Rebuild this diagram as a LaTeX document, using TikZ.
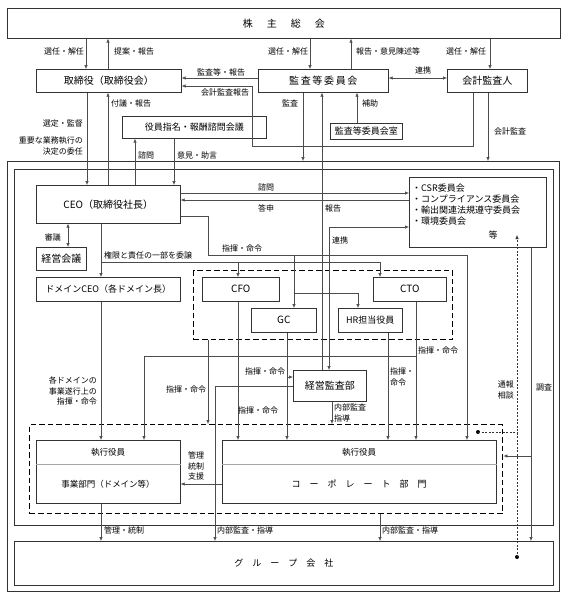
\documentclass[tikz,border=0pt]{standalone}
\usepackage{fontspec}
\setmainfont{Noto Sans CJK JP}
\usetikzlibrary{arrows.meta}

\newcommand{\lblfont}{\fontsize{8}{10.5}\selectfont}
\newcommand{\boxfont}{\fontsize{10}{12}\selectfont}
\newcommand{\midfont}{\fontsize{9}{11}\selectfont}

\tikzset{
  box/.style={draw=black!80, line width=0.6pt, inner sep=0pt, font=\boxfont},
  frame/.style={draw=black!80, line width=0.6pt, inner sep=0pt},
  dbox/.style={draw=black, line width=1.4pt, dash pattern=on 5.5pt off 3pt, inner sep=0pt},
  lbl/.style={font=\lblfont, inner sep=1pt},
  ln/.style={draw=black!70, line width=0.6pt},
  arr/.style={ln, -{Latex[length=4pt,width=3.4pt]}},
  darr/.style={ln, {Latex[length=4pt,width=3.4pt]}-{Latex[length=4pt,width=3.4pt]}},
  dotln/.style={draw=black!80, line width=0.6pt, dash pattern=on 2pt off 1.5pt},
}

\begin{document}
\begin{tikzpicture}[x=1pt,y=-1pt]
\useasboundingbox (0,0) rectangle (567,595);

\node[frame, anchor=north west, minimum width=552pt, minimum height=430pt] (outer) at (7,161) {};
\node[frame, anchor=north west, minimum width=539pt, minimum height=356pt] (inner) at (14,169) {};
\node[dbox, anchor=north west, minimum width=259pt, minimum height=69pt] (cxo) at (193,270) {};
\node[dbox, anchor=north west, minimum width=473pt, minimum height=89pt] (exec) at (29,424) {};

\node[box, anchor=north west, minimum width=553pt, minimum height=30pt] (kabu) at (7,8) {株\hspace{1.4em}主\hspace{1.4em}総\hspace{1.4em}会};
\node[box, anchor=north west, minimum width=145pt, minimum height=23pt] (tori) at (36,69) {取締役（取締役会）};
\node[box, anchor=north west, minimum width=130pt, minimum height=23pt] (kansa) at (258,69) {監\,査\,等\,委\,員\,会};
\node[box, anchor=north west, minimum width=80pt, minimum height=23pt] (kaikei) at (447,69) {会計監査人};
\node[box, anchor=north west, minimum width=144pt, minimum height=22pt, font=\midfont] (yakuin) at (122,116) {役員指名・報酬諮問会議};
\node[box, anchor=north west, minimum width=72pt, minimum height=16pt, font=\midfont] (shitsu) at (330,123) {監査等委員会室};

\node[box, anchor=north west, minimum width=144pt, minimum height=38pt] (ceo) at (36,185) {CEO（取締役社長）};
\node[box, anchor=north west, minimum width=137pt, minimum height=70pt] (iinkai) at (409,177) {};
\node[lbl, font=\midfont, align=left, anchor=north west] (iinkaitxt) at (411,183) {・CSR委員会\\・コンプライアンス委員会\\・輸出関連法規遵守委員会\\・環境委員会};
\node[lbl, font=\midfont] (iinkaito) at (493,235) {等};
\node[box, anchor=north west, minimum width=50pt, minimum height=23pt] (keiei) at (36,247) {経営会議};
\node[box, anchor=north west, minimum width=144pt, minimum height=24pt, font=\midfont] (domain) at (36,277) {ドメインCEO（各ドメイン長）};

\node[box, anchor=north west, minimum width=77pt, minimum height=24pt] (cfo) at (202,277) {CFO};
\node[box, anchor=north west, minimum width=73pt, minimum height=24pt] (cto) at (373,277) {CTO};
\node[box, anchor=north west, minimum width=65pt, minimum height=24pt] (gc) at (251,308) {GC};
\node[box, anchor=north west, minimum width=64pt, minimum height=24pt, font=\midfont] (hr) at (338,308) {HR担当役員};
\node[box, anchor=north west, minimum width=73pt, minimum height=31pt] (kansabu) at (293,370) {経営監査部};

\node[box, anchor=north west, minimum width=144pt, minimum height=63pt] (jigyo) at (36,440) {};
\node[box, anchor=north west, minimum width=274pt, minimum height=63pt] (corp) at (222,440) {};
\draw[black!35, line width=0.5pt] (jigyo.west |- 0,464) -- (jigyo.east |- 0,464);
\draw[black!35, line width=0.5pt] (corp.west |- 0,464) -- (corp.east |- 0,464);
\node[lbl, font=\fontsize{8.5}{10}\selectfont] (jigyoexec) at (108,452) {執行役員};
\node[lbl, font=\fontsize{8.5}{10}\selectfont] (jigyoname) at (108,484) {事業部門（ドメイン等）};
\node[lbl, font=\fontsize{8.5}{10}\selectfont] (corpexec) at (359,452) {執行役員};
\node[lbl, font=\midfont] (corpname) at (359,484) {コ　ー　ポ　レ　ー　ト　部　門};

\node[box, anchor=north west, minimum width=539pt, minimum height=44pt, font=\midfont] (group) at (14,541) {グ　ル　ー　プ　会　社};

\draw[arr] (kabu.south -| 86,0) -- (tori.north -| 86,0);
\draw[arr] (tori.north -| 108,0) -- (kabu.south -| 108,0);
\draw[arr] (kabu.south -| 310,0) -- (kansa.north -| 310,0);
\draw[arr] (kansa.north -| 351,0) -- (kabu.south -| 351,0);
\draw[arr] (kabu.south -| 490,0) -- (kaikei.north -| 490,0);
\node[lbl] (l1) at (64,51) {選任・解任};
\node[lbl] (l2) at (134,51) {提案・報告};
\node[lbl] (l3) at (288,51) {選任・解任};
\node[lbl] (l4) at (388,51) {報告・意見陳述等};
\node[lbl] (l5) at (466,51) {選任・解任};

\draw[arr] (kansa.west |- 0,78) -- (tori.east |- 0,78);
\draw[arr] (kaikei.south -| 473,0) -- (473,146) -- (252,146) -- (252,86) -- (tori.east |- 0,86);
\draw[darr] (kansa.east |- 0,78) -- (kaikei.west |- 0,78);
\node[lbl] (l6) at (221,72) {監査等・報告};
\node[lbl] (l7) at (225,92) {会計監査報告};
\node[lbl] (l8) at (423,70) {連携};

\draw[arr] (tori.south -| 87,0) -- (ceo.north -| 87,0);
\draw[arr] (ceo.north -| 108,0) -- (tori.south -| 108,0);
\draw[arr] (ceo.north -| 135,0) -- (yakuin.south -| 135,0);
\draw[arr] (yakuin.south -| 174,0) -- (ceo.north -| 174,0);
\node[lbl, anchor=west] (l9) at (110,103) {付議・報告};
\node[lbl, anchor=east] (l12) at (84,123) {選定・監督};
\node[lbl, anchor=east, align=right] (l13) at (84,146) {重要な業務執行の\\決定の委任};
\node[lbl, anchor=west] (l15) at (137,155) {諮問};
\node[lbl, anchor=west] (l16) at (176,155) {意見・助言};

\draw[arr] (kansa.south -| 303,0) -- (outer.north -| 303,0);
\draw[arr] (shitsu.north -| 357,0) -- (kansa.south -| 357,0);
\draw[arr] (kaikei.south -| 488,0) -- (outer.north -| 488,0);
\draw[arr] (kansabu.north -| 322,0) -- (kansa.south -| 322,0);
\node[lbl] (l10) at (290,103) {監査};
\node[lbl, anchor=west] (l11) at (361,103) {補助};
\node[lbl, anchor=west] (l14) at (493,131) {会計監査};
\node[lbl, anchor=west] (l19) at (324,208) {報告};

\draw[arr] (ceo.east |- 0,193) -- (iinkai.west |- 0,193);
\draw[arr] (iinkai.west |- 0,200) -- (ceo.east |- 0,200);
\draw[darr] (kansabu.north -| 329,0) -- (329,227) -- (iinkai.west |- 0,227);
\node[lbl] (l17) at (266,187) {諮問};
\node[lbl] (l18) at (266,208) {答申};
\node[lbl, anchor=west] (l20) at (331,240) {連携};

\draw[darr] (ceo.south -| 68,0) -- (keiei.north -| 68,0);
\node[lbl, anchor=east] (l21) at (62,237) {審議};
\draw[arr] (ceo.south -| 101,0) -- (domain.north -| 101,0);
\draw[arr] (101,262) -- (380,262) -- (cto.north -| 380,0);
\draw[arr] (238,262) -- (cfo.north -| 238,0);
\node[lbl, anchor=west] (l23) at (103,255) {権限と責任の一部を委譲};
\draw[arr] (ceo.east |- 0,216) -- (208,216) -- (208,255) -- (467,255) -- (corp.north -| 467,0);
\draw[arr] (294,255) -- (gc.north -| 294,0);
\draw[arr] (294,293) -- (358,293) -- (hr.north -| 358,0);
\node[lbl] (l22) at (242,248) {指揮・命令};

\draw[arr] (domain.south -| 101,0) -- (jigyo.north -| 101,0);
\node[lbl, anchor=east, align=right] (l27) at (98,391) {各ドメインの\\事業遂行上の\\指揮・命令};
\draw[arr] (cfo.south -| 238,0) -- (corp.north -| 238,0);
\draw[arr] (gc.south -| 287,0) -- (corp.north -| 287,0);
\draw[arr] (hr.south -| 388,0) -- (corp.north -| 388,0);
\draw[arr] (cto.south -| 416,0) -- (corp.north -| 416,0);
\draw[arr] (416,356) -- (144,356) -- (jigyo.north -| 144,0);
\draw[arr] (287,377) -- (kansabu.west |- 0,377);
\draw[arr] (cxo.south -| 208,0) -- (exec.north -| 208,0);
\node[lbl, anchor=west] (l24) at (417,350) {指揮・命令};
\node[lbl] (l25) at (265,371) {指揮・命令};
\node[lbl, anchor=west, align=left] (l26) at (389,377) {指揮・\\命令};
\node[lbl] (l28) at (186,389) {指揮・命令};
\node[lbl] (l29) at (258,410) {指揮・命令};

\draw[arr] (kansabu.west |- 0,386) -- (215,386) -- (group.north -| 215,0);
\draw[arr] (kansabu.south -| 332,0) -- (exec.north -| 332,0);
\node[lbl, anchor=west, align=left] (l30) at (333,413) {内部監査\\指導};

\draw[arr] (corp.west |- 0,484) -- (jigyo.east |- 0,484);
\node[lbl, align=center] (l33) at (196,466) {管理\\統制\\支援};

\draw[arr] (jigyo.south -| 101,0) -- (group.north -| 101,0);
\draw[arr] (exec.south -| 380,0) -- (group.north -| 380,0);
\node[lbl, anchor=west] (l34) at (103,530) {管理・統制};
\node[lbl, anchor=west] (l35) at (216,530) {内部監査・指導};
\node[lbl, anchor=west] (l36) at (381,530) {内部監査・指導};

\draw[arr] (iinkai.south -| 531,0) -- (group.north -| 531,0);
\draw[arr] (531,456) -- (exec.east |- 0,456);
\node[lbl, anchor=west] (l32) at (535,387) {調査};

\coordinate (gdot) at (517,557);
\coordinate (edot) at (478,432);
\coordinate (tsuho) at (517,235);
\fill (gdot) circle (2pt);
\fill (edot) circle (2pt);
\draw[dotln, -{Latex[length=4pt,width=3.4pt]}] (gdot) -- (tsuho);
\draw[dotln] (edot) -- (edot -| gdot);
\node[lbl, anchor=east, align=right] (l31) at (515,390) {通報\\相談};
\end{tikzpicture}
\end{document}
